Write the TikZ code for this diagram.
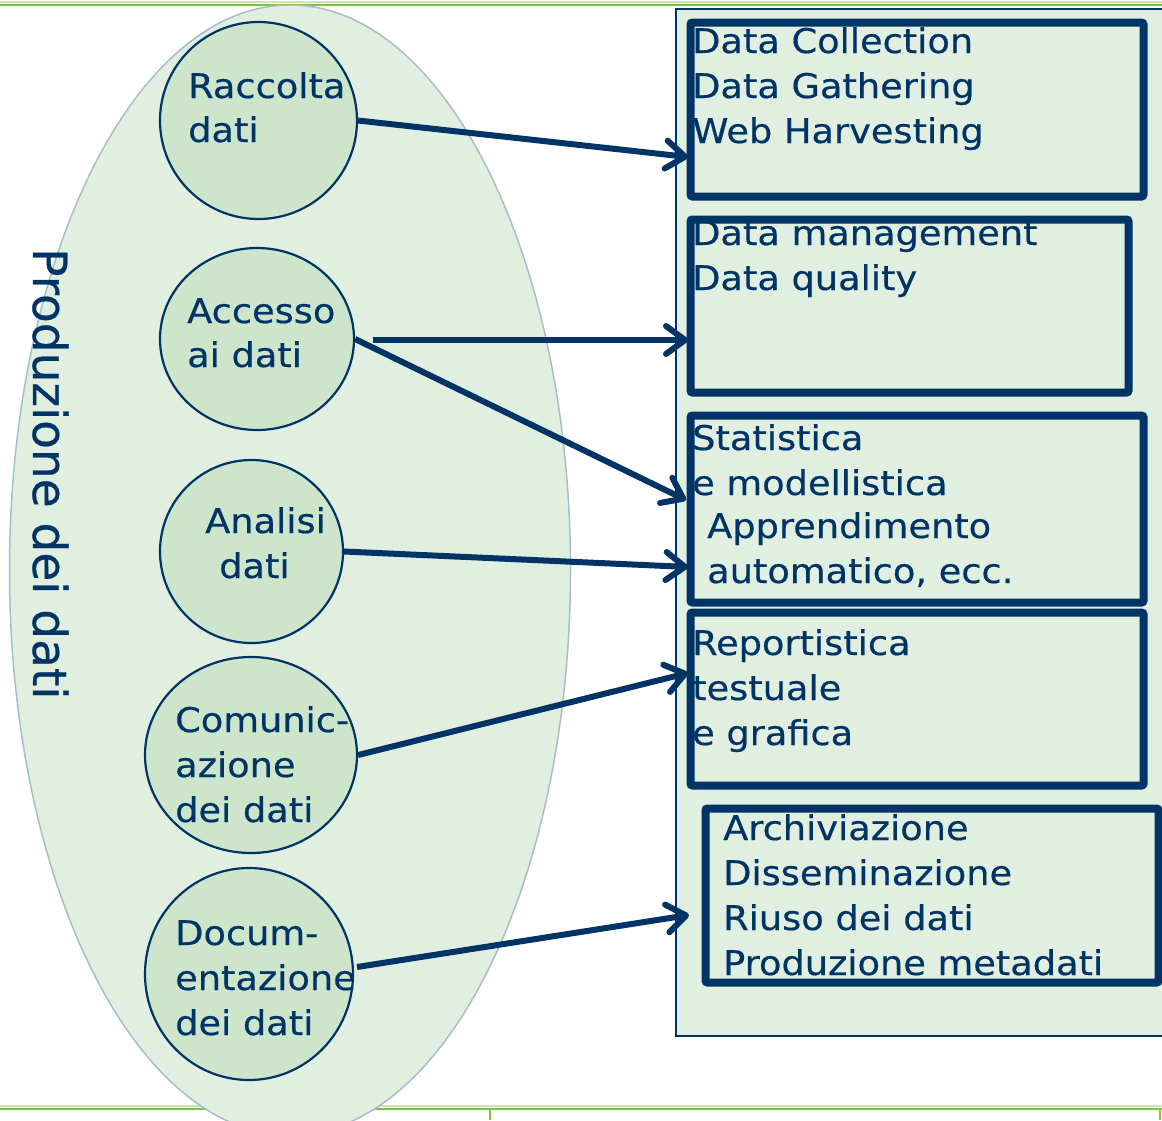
\documentclass[tikz,border=0pt]{standalone}
\usepackage{fontspec}
\setmainfont{DejaVu Sans}[FakeStretch=1.08,FakeBold=0.5]
\newfontfamily\vfont{DejaVu Sans}[FakeBold=0.5]
\usetikzlibrary{arrows.meta,shapes.geometric}
\definecolor{dblue}{HTML}{003366}
\definecolor{pale}{HTML}{E1EFE0}
\definecolor{mid}{HTML}{CCE5CB}
\definecolor{edgec}{HTML}{A9BDC9}
\definecolor{lgreen}{HTML}{7DC242}
\definecolor{lgreenb}{HTML}{C9E8AE}
\begin{document}
\begin{tikzpicture}[x=1pt,y=-1pt,
  txt/.style={font=\fontsize{34}{45}\selectfont, text=dblue, inner sep=0pt, anchor=base west},
  circ/.style={ellipse, draw=dblue, line width=2.2pt, fill=mid, inner sep=0pt},
  boxc/.style={draw=dblue, line width=8pt, rounded corners=2pt, inner sep=0pt},
  arr/.style={draw=dblue, line width=6pt, -{Straight Barb[length=19pt,width=28pt,round]}}]
\useasboundingbox (0,0) rectangle (1162,1120);
\fill[white] (0,0) rectangle (1162,1120);
% frame lines
\draw[lgreenb, line width=2pt] (0,2) -- (1162,2);
\draw[lgreen, line width=2pt] (0,4.5) -- (1162,4.5);
\draw[lgreenb, line width=2pt] (0,1106) -- (1162,1106);
\draw[lgreen, line width=2pt] (0,1108.5) -- (1162,1108.5);
\draw[lgreen, line width=1.5pt] (490,1108) -- (490,1120);
\draw[lgreen, line width=1.5pt] (1160,1108) -- (1160,1120);
% big ellipse and panel
\node[ellipse, draw=edgec, line width=1.5pt, fill=pale, minimum width=561pt, minimum height=1130pt, inner sep=0pt] (big) at (290,570) {};
\node[draw=dblue, line width=1.8pt, fill=pale, minimum width=490pt, minimum height=1027pt, inner sep=0pt, anchor=north west] (panel) at (675,8) {};
% vertical label
\node[rotate=-90, anchor=base west, font=\vfont\fontsize{47}{50}\selectfont, text=dblue, inner sep=0pt] (side) at (33,248) {Produzione dei dati};
% circles
\node[circ, minimum width=197pt, minimum height=197pt] (c1) at (258.5,120.5) {};
\node[circ, minimum width=194pt, minimum height=182pt] (c2) at (257,339) {};
\node[circ, minimum width=183pt, minimum height=183pt] (c3) at (251.5,551.5) {};
\node[circ, minimum width=212pt, minimum height=196pt] (c4) at (251,755) {};
\node[circ, minimum width=208pt, minimum height=212pt] (c5) at (249,974) {};
% circle texts
\node[txt] (r1) at (188,98) {Raccolta};
\node[txt] (r2) at (188,142) {dati};
\node[txt] (a1) at (187,323) {Accesso};
\node[txt] (a2) at (187,367) {ai dati};
\node[txt] (n1) at (205,533) {Analisi};
\node[txt] (n2) at (219,578) {dati};
\node[txt] (m1) at (175,732) {Comunic-};
\node[txt] (m2) at (175,777) {azione};
\node[txt] (m3) at (175,822) {dei dati};
\node[txt] (d1) at (175,945) {Docum-};
\node[txt] (d2) at (175,990) {entazione};
\node[txt] (d3) at (175,1035) {dei dati};
% box texts
\foreach \s [count=\i] in {Data Collection,Data Gathering,Web Harvesting}
  \node[txt] (ta\i) at (692,{53+45*(\i-1)}) {\s};
\foreach \s [count=\i] in {Data management,Data quality}
  \node[txt] (tb\i) at (692,{245+45*(\i-1)}) {\s};
\node[txt] (tc1) at (692,450) {Statistica};
\node[txt] (tc2) at (692,495) {e modellistica};
\node[txt] (tc3) at (707,538) {Apprendimento};
\node[txt] (tc4) at (707,583) {automatico, ecc.};
\foreach \s [count=\i] in {Reportistica,testuale,e grafica}
  \node[txt] (td\i) at (692,{655+45*(\i-1)}) {\s};
\foreach \s [count=\i] in {Archiviazione,Disseminazione,Riuso dei dati,Produzione metadati}
  \node[txt] (te\i) at (723,{840+45*(\i-1)}) {\s};
% boxes
\node[boxc, minimum width=453pt, minimum height=174pt] (b1) at (917,109.5) {};
\node[boxc, minimum width=438pt, minimum height=173pt] (b2) at (909.5,306) {};
\node[boxc, minimum width=453pt, minimum height=187pt] (b3) at (917,509) {};
\node[boxc, minimum width=453pt, minimum height=173pt] (b4) at (917,699) {};
\node[boxc, minimum width=453pt, minimum height=174pt] (b5) at (932,895.5) {};
% arrow ends
\coordinate (s2) at (373,340);
\coordinate (e1) at (688,157);
\coordinate (e2) at (688,340);
\coordinate (e3) at (686,500);
\coordinate (e4) at (688,567);
\coordinate (e5) at (688,673);
\coordinate (e6) at (689,915);
\coordinate (s6) at (357,967);
\draw[arr] (c1.east) -- (e1);
\draw[arr] (s2) -- (e2);
\draw[arr] (c2.east) -- (e3);
\draw[arr] (c3.east) -- (e4);
\draw[arr] (c4.east) -- (e5);
\draw[arr] (s6) -- (e6);
\end{tikzpicture}
\end{document}
